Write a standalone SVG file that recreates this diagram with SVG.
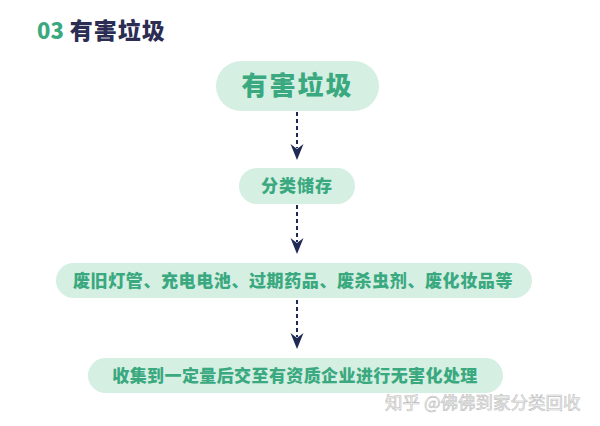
<svg xmlns="http://www.w3.org/2000/svg" width="600" height="426" viewBox="0 0 600 426">
<style>
.pill{fill:#d5efe3}
.t{font-family:"Noto Sans CJK SC","Noto Sans",sans-serif;font-weight:900;fill:#3aa97f;text-anchor:middle}
.c{stroke:#1f2b55;stroke-width:2;stroke-dasharray:4 3;fill:none}
</style>
<defs>
<marker id="ah" markerUnits="userSpaceOnUse" markerWidth="18" markerHeight="14" refX="4" refY="7" orient="auto">
<path d="M0,0.5 L16,7 L0,13.5 L5,7 z" fill="#1f2b55"/>
</marker>
</defs>
<rect width="600" height="426" fill="#ffffff"/>
<g id="title">
<text x="37" y="39" font-family="'Noto Sans CJK SC','Noto Sans',sans-serif" font-weight="900" font-size="22"><tspan fill="#3aa97f">03</tspan><tspan fill="#2b2d52" dx="6" font-size="23" letter-spacing="1">有害垃圾</tspan></text>
</g>
<g id="connectors">
<line class="c" x1="297" y1="112" x2="297" y2="148" marker-end="url(#ah)"/>
<line class="c" x1="297" y1="205" x2="297" y2="242" marker-end="url(#ah)"/>
<line class="c" x1="297" y1="300" x2="297" y2="337" marker-end="url(#ah)"/>
</g>
<g id="n1">
<rect class="pill" x="216" y="61" width="163" height="50" rx="25"/>
<text class="t" x="297.5" y="95" font-size="26" letter-spacing="2">有害垃圾</text>
</g>
<g id="n2">
<rect class="pill" x="239" y="168" width="116" height="36" rx="18"/>
<text class="t" x="297" y="192" font-size="17" letter-spacing="1">分类储存</text>
</g>
<g id="n3">
<rect class="pill" x="56" y="263" width="476" height="35" rx="17.5"/>
<text class="t" x="293" y="287" font-size="17" letter-spacing="0.6">废旧灯管、充电电池、过期药品、废杀虫剂、废化妆品等</text>
</g>
<g id="n4">
<rect class="pill" x="88" y="358" width="415" height="35" rx="17.5"/>
<text class="t" x="295" y="382" font-size="17" letter-spacing="0.4">收集到一定量后交至有资质企业进行无害化处理</text>
</g>
<g id="watermark">
<text x="385" y="409" font-family="'Noto Sans CJK SC',sans-serif" font-size="17.5" fill="#f6f6f6" stroke="#bdbdbd" stroke-width="0.6">知乎 @佛佛到家分类回收</text>
</g>
</svg>
